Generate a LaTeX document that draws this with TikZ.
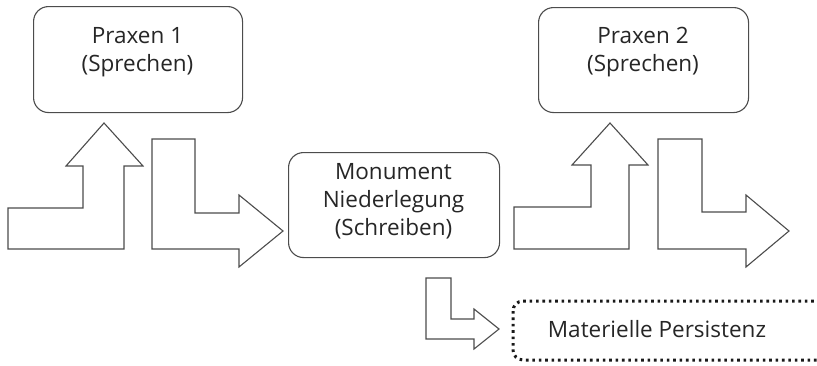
\documentclass[tikz,border=0pt]{standalone}
\usepackage{fontspec}
\setmainfont{Open Sans}
\begin{document}
\begin{tikzpicture}[x=1pt,y=-1pt,
  box/.style={draw=black!70, line width=1.1pt, rounded corners=15pt, fill=white},
  lbl/.style={text=black!85, font=\fontsize{22.5}{28}\selectfont, align=center, inner sep=0pt},
  blk/.style={draw=black!70, line width=1.1pt, fill=white, line join=miter},
  dotbox/.style={draw=black!90, line width=3pt, dash pattern=on 2.6pt off 3.8pt, rounded corners=10pt}]
\useasboundingbox (0,0) rectangle (817,365);
\clip (0,0) rectangle (817,365);
% boxes
\node[box, minimum width=209pt, minimum height=106pt, anchor=north west] (p1) at (33,6) {};
\node[lbl] (p1t) at (137.5,52) {Praxen 1\\(Sprechen)};
\node[box, minimum width=210pt, minimum height=105pt, anchor=north west] (p2) at (538,7) {};
\node[lbl] (p2t) at (643,52) {Praxen 2\\(Sprechen)};
\node[box, minimum width=211pt, minimum height=105pt, anchor=north west] (mon) at (288,152) {};
\node[lbl] (mont) at (393.5,201) {Monument\\Niederlegung\\(Schreiben)};
\draw[dotbox] (513,301) rectangle (840,360);
\node[lbl] (mat) at (657,329) {Materielle Persistenz};
% block arrows
\draw[blk] (8,208) -- (83,208) -- (83,166) -- (66,166) -- (104,123) -- (143,166) -- (124,166) -- (124,249) -- (8,249) -- cycle;
\draw[blk] (152,139) -- (195,139) -- (195,213) -- (239,213) -- (239,195) -- (283,231) -- (239,267) -- (239,249) -- (152,249) -- cycle;
\draw[blk] (514,207) -- (591,207) -- (591,165) -- (572,165) -- (610,123) -- (648,165) -- (629,165) -- (629,249) -- (514,249) -- cycle;
\draw[blk] (658,139) -- (702,139) -- (702,212) -- (746,212) -- (746,195) -- (789,231) -- (746,267) -- (746,249) -- (658,249) -- cycle;
\draw[blk] (426,278) -- (451,278) -- (451,319) -- (474,319) -- (474,309) -- (499,329) -- (474,349) -- (474,339) -- (426,339) -- cycle;
\end{tikzpicture}
\end{document}
